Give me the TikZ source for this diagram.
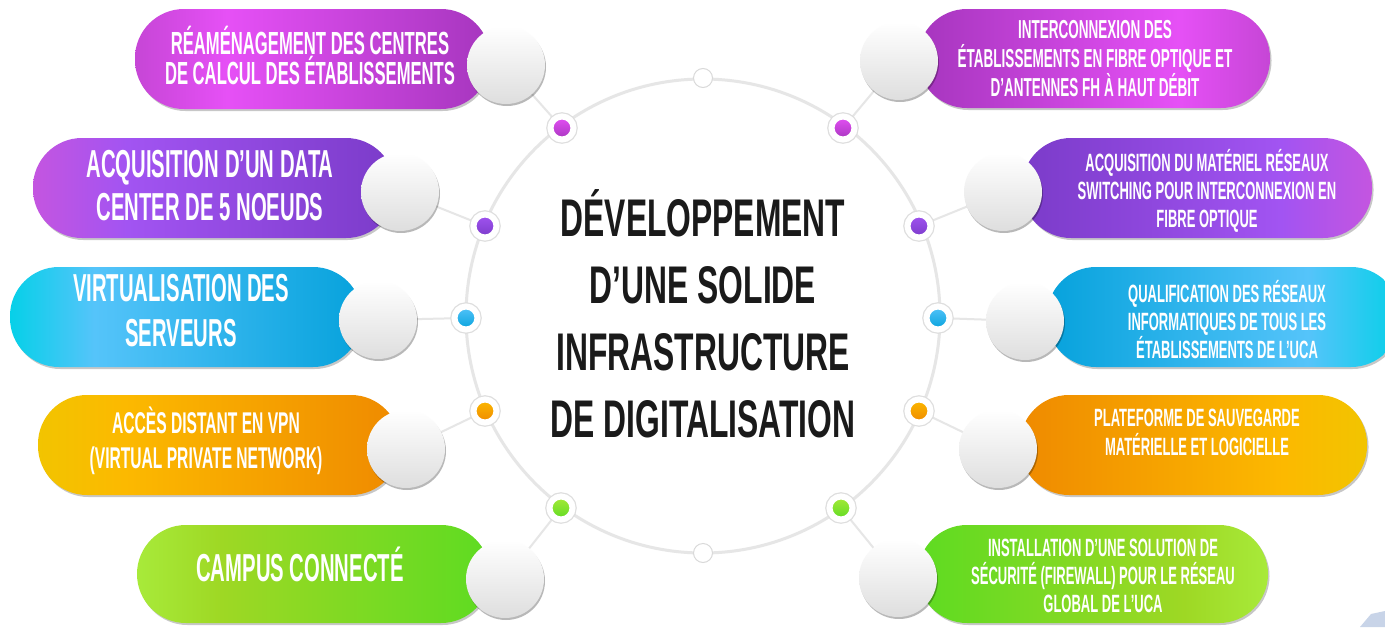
\documentclass[tikz,border=0pt]{standalone}
\usepackage{fontspec}
\usetikzlibrary{shadows}
\newfontfamily\pillfont{Liberation Sans}[FakeStretch=0.52]
\newfontfamily\titlefont{Liberation Sans}[FakeStretch=0.6]
\definecolor{mA}{HTML}{C646D6}\definecolor{mB}{HTML}{E650F6}\definecolor{mC}{HTML}{A636BE}
\definecolor{pA}{HTML}{C455E0}\definecolor{pB}{HTML}{A254F2}\definecolor{pC}{HTML}{7B3BC9}
\definecolor{bA}{HTML}{06D0E8}\definecolor{bB}{HTML}{55C4FA}\definecolor{bC}{HTML}{06A2DC}
\definecolor{oA}{HTML}{F2C400}\definecolor{oB}{HTML}{FCB900}\definecolor{oC}{HTML}{EF8A00}
\definecolor{gA}{HTML}{A8EA3A}\definecolor{gB}{HTML}{9ED824}\definecolor{gC}{HTML}{5EDB22}
\definecolor{ringc}{HTML}{E6E6E6}
\definecolor{titlec}{HTML}{1A1A1A}
\definecolor{cornerc}{HTML}{C8D4E8}
\pgfdeclarehorizontalshading{magL}{100bp}{color(0bp)=(mA); color(25bp)=(mA); color(38bp)=(mB); color(75bp)=(mC); color(100bp)=(mC)}
\pgfdeclarehorizontalshading{magR}{100bp}{color(0bp)=(mC); color(25bp)=(mC); color(62bp)=(mB); color(75bp)=(mA); color(100bp)=(mA)}
\pgfdeclarehorizontalshading{purL}{100bp}{color(0bp)=(pA); color(25bp)=(pA); color(38bp)=(pB); color(75bp)=(pC); color(100bp)=(pC)}
\pgfdeclarehorizontalshading{purR}{100bp}{color(0bp)=(pC); color(25bp)=(pC); color(62bp)=(pB); color(75bp)=(pA); color(100bp)=(pA)}
\pgfdeclarehorizontalshading{bluL}{100bp}{color(0bp)=(bA); color(25bp)=(bA); color(37bp)=(bB); color(75bp)=(bC); color(100bp)=(bC)}
\pgfdeclarehorizontalshading{bluR}{100bp}{color(0bp)=(bC); color(25bp)=(bC); color(62bp)=(bB); color(75bp)=(bA); color(100bp)=(bA)}
\pgfdeclarehorizontalshading{oraL}{100bp}{color(0bp)=(oA); color(25bp)=(oA); color(37bp)=(oB); color(75bp)=(oC); color(100bp)=(oC)}
\pgfdeclarehorizontalshading{oraR}{100bp}{color(0bp)=(oC); color(25bp)=(oC); color(63bp)=(oB); color(75bp)=(oA); color(100bp)=(oA)}
\pgfdeclarehorizontalshading{grnL}{100bp}{color(0bp)=(gA); color(25bp)=(gA); color(37bp)=(gB); color(75bp)=(gC); color(100bp)=(gC)}
\pgfdeclarehorizontalshading{grnR}{100bp}{color(0bp)=(gC); color(25bp)=(gC); color(63bp)=(gB); color(75bp)=(gA); color(100bp)=(gA)}
\pgfdeclarelayer{background}
\pgfsetlayers{background,main}
\tikzset{
  pill/.style={rounded corners=49pt, drop shadow={shadow xshift=1.5pt, shadow yshift=-2pt, opacity=.22, fill=black}},
  wcirc/.style={circle, minimum size=78pt, inner sep=0pt, top color=white, bottom color=black!13,
     drop shadow={shadow xshift=1pt, shadow yshift=-2pt, opacity=.28, fill=black}},
  cdot/.style={circle, minimum size=23pt, inner sep=0pt, draw=white, line width=6pt,
     preaction={draw=black!13, line width=8.5pt}},
  wdot/.style={circle, minimum size=19pt, inner sep=0pt, fill=white, draw=black!15, line width=1pt},
  conn/.style={draw=ringc, line width=2pt},
  ring/.style={draw=ringc, line width=3pt},
  ptxt/.style={text=white, align=center, inner sep=0pt},
}
\begin{document}
\begin{tikzpicture}[x=1pt,y=-1pt]
\useasboundingbox (0,0) rectangle (1385,627);
\begin{pgfonlayer}{background}
\fill[white] (0,0) rectangle (1385,627);
\end{pgfonlayer}

% pills left
\path[pill, shading=magL] (135,9) rectangle (490,109);
\path[pill, shading=purL] (33,138) rectangle (395,238);
\path[pill, shading=bluL] (10,267) rectangle (362,367);
\path[pill, shading=oraL] (38,395) rectangle (400,495);
\path[pill, shading=grnL] (137,525) rectangle (490,623);
% pills right
\path[pill, shading=magR] (918,9) rectangle (1270,108);
\path[pill, shading=purR] (1022,138) rectangle (1372,238);
\path[pill, shading=bluR] (1047,267) rectangle (1400,367);
\path[pill, shading=oraR] (1020,395) rectangle (1367,495);
\path[pill, shading=grnR] (918,525) rectangle (1268,623);
\fill[cornerc] (1360,627) -- (1371,614) -- (1385,611) -- (1385,627) -- cycle;

% centre
\coordinate (ctr) at (703,316);
\begin{pgfonlayer}{background}
\draw[ring] (ctr) circle[radius=237pt];
\end{pgfonlayer}
\node[text=titlec, align=center, inner sep=0pt,
      font=\titlefont\bfseries\fontsize{53}{67}\selectfont] (title) at (703,314)
      {DÉVELOPPEMENT\\D’UNE SOLIDE\\INFRASTRUCTURE\\DE DIGITALISATION};

% white circles
\node[wcirc] (cL1) at (506,65) {};
\node[wcirc] (cL2) at (400,192) {};
\node[wcirc] (cL3) at (378,320) {};
\node[wcirc] (cL4) at (406,449) {};
\node[wcirc] (cL5) at (505,579) {};
\node[wcirc] (cR1) at (899,61) {};
\node[wcirc] (cR2) at (1003,192) {};
\node[wcirc] (cR3) at (1025,321) {};
\node[wcirc] (cR4) at (998,449) {};
\node[wcirc] (cR5) at (898,578) {};

% dots on the ring
\node[cdot, top color=mB, bottom color=mC] (dL1) at (562,128) {};
\node[cdot, top color=pB, bottom color=pC] (dL2) at (485,226) {};
\node[cdot, top color=bB, bottom color=bC] (dL3) at (466,318) {};
\node[cdot, top color=oB, bottom color=oC] (dL4) at (485,411) {};
\node[cdot, top color=gA, bottom color=gC] (dL5) at (561,508) {};
\node[cdot, top color=mB, bottom color=mC] (dR1) at (843,128) {};
\node[cdot, top color=pB, bottom color=pC] (dR2) at (919,226) {};
\node[cdot, top color=bB, bottom color=bC] (dR3) at (938,318) {};
\node[cdot, top color=oB, bottom color=oC] (dR4) at (919,411) {};
\node[cdot, top color=gA, bottom color=gC] (dR5) at (841,508) {};
\node[wdot] (dT) at (703,78) {};
\node[wdot] (dB) at (703,553) {};

\begin{pgfonlayer}{background}
\foreach \s in {L1,L2,L3,L4,L5,R1,R2,R3,R4,R5}{
  \draw[conn] (c\s.center) -- (d\s.center);
}
\end{pgfonlayer}

% texts
\node[ptxt, font=\pillfont\bfseries\fontsize{32}{30}\selectfont] (tL1) at (310,55)
  {RÉAMÉNAGEMENT DES CENTRES\\DE CALCUL DES ÉTABLISSEMENTS};
\node[ptxt, font=\pillfont\bfseries\fontsize{39}{43}\selectfont] (tL2) at (210,186)
  {ACQUISITION D’UN DATA\\CENTER DE 5 NOEUDS};
\node[ptxt, font=\pillfont\bfseries\fontsize{39}{45}\selectfont] (tL3) at (181,311)
  {VIRTUALISATION DES\\SERVEURS};
\node[ptxt, font=\pillfont\bfseries\fontsize{30}{35}\selectfont] (tL4) at (206,441)
  {ACCÈS DISTANT EN VPN\\(VIRTUAL PRIVATE NETWORK)};
\node[ptxt, font=\pillfont\bfseries\fontsize{39}{45}\selectfont] (tL5) at (300,564)
  {CAMPUS CONNECTÉ};
\node[ptxt, font=\pillfont\bfseries\fontsize{26}{29}\selectfont] (tR1) at (1095,59)
  {INTERCONNEXION DES\\ÉTABLISSEMENTS EN FIBRE OPTIQUE ET\\D’ANTENNES FH À HAUT DÉBIT};
\node[ptxt, font=\pillfont\bfseries\fontsize{25}{28}\selectfont] (tR2) at (1207,191)
  {ACQUISITION DU MATÉRIEL RÉSEAUX\\SWITCHING POUR INTERCONNEXION EN\\FIBRE OPTIQUE};
\node[ptxt, font=\pillfont\bfseries\fontsize{25}{28}\selectfont] (tR3) at (1227,320)
  {QUALIFICATION DES RÉSEAUX\\INFORMATIQUES DE TOUS LES\\ÉTABLISSEMENTS DE L’UCA};
\node[ptxt, font=\pillfont\bfseries\fontsize{25}{29}\selectfont] (tR4) at (1197,432)
  {PLATEFORME DE SAUVEGARDE\\MATÉRIELLE ET LOGICIELLE};
\node[ptxt, font=\pillfont\bfseries\fontsize{25}{28}\selectfont] (tR5) at (1103,576)
  {INSTALLATION D’UNE SOLUTION DE\\SÉCURITÉ (FIREWALL) POUR LE RÉSEAU\\GLOBAL DE L’UCA};
\end{tikzpicture}
\end{document}
